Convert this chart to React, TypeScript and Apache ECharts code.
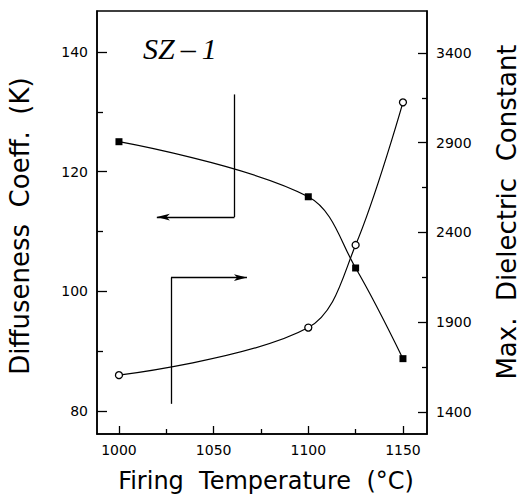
import React, { useEffect, useRef } from "react";
import * as echarts from "echarts";

const temperatures = [1000, 1100, 1125, 1150];
const diffuseness = [125, 115.8, 103.9, 88.75];
const maxDielectric = [1605, 1870, 2330, 3125];

const xMajorTicks = [1000, 1050, 1100, 1150];
const xMinorTicks = [1025, 1075, 1125];
const leftMajorTicks = [80, 100, 120, 140];
const leftMinorTicks = [90, 110, 130];
const rightMajorTicks = [1400, 1900, 2400, 2900, 3400];
const rightMinorTicks = [1650, 2150, 2650, 3150];

const xRange = [988.4, 1162.7];
const leftRange = [76.16, 146.84];
const rightRange = [1277, 3634];

// annotation arrows (in data coordinates of x / left axis)
const arrowLeft = { x: 1061, yTop: 132.9, yBottom: 112.4, xTip: 1020 };
const arrowRight = { x: 1027.5, yBottom: 81.2, yTop: 102.3, xTip: 1067.6 };

const FONT = "DejaVu Sans";
const plain = (v: number) => String(v);

export default function App() {
  const ref = useRef<HTMLDivElement>(null);
  useEffect(() => {
    if (!ref.current) return;
    const chart = echarts.init(ref.current, null, { renderer: "svg" });
    const black = "#000";
    const majorX = (pos: string) => ({
      type: "value",
      position: pos,
      min: xRange[0],
      max: xRange[1],
      axisLine: { show: true, lineStyle: { color: black, width: 1.5 } },
      splitLine: { show: false },
    });
    const labelStyle = {
      margin: 9,
      fontFamily: FONT,
      fontSize: 14,
      fontWeight: 500,
      color: black,
      formatter: plain,
    };
    const option: any = {
      animation: false,
      backgroundColor: "#fff",
      grid: {
        left: 97,
        right: 96,
        top: 11,
        bottom: 63,
        show: true,
        borderColor: black,
        borderWidth: 1.5,
        backgroundColor: "transparent",
      },
      xAxis: [
        {
          ...majorX("bottom"),
          axisTick: {
            show: true,
            inside: true,
            length: 8,
            customValues: xMajorTicks,
            lineStyle: { color: black, width: 1.3 },
          },
          axisLabel: { ...labelStyle, show: true, customValues: xMajorTicks, margin: 9 },
        },
        {
          ...majorX("bottom"),
          axisLine: { show: false },
          axisTick: {
            show: true,
            inside: true,
            length: 5,
            customValues: xMinorTicks,
            lineStyle: { color: black, width: 1.3 },
          },
          axisLabel: { show: false },
        },
      ],
      yAxis: [
        {
          type: "value",
          position: "left",
          min: leftRange[0],
          max: leftRange[1],
          splitLine: { show: false },
          axisLine: { show: true, lineStyle: { color: black, width: 1.5 } },
          axisTick: {
            show: true,
            inside: true,
            length: 10,
            customValues: leftMajorTicks,
            lineStyle: { color: black, width: 1.3 },
          },
          axisLabel: { ...labelStyle, customValues: leftMajorTicks },
        },
        {
          type: "value",
          position: "right",
          min: rightRange[0],
          max: rightRange[1],
          splitLine: { show: false },
          axisLine: { show: true, lineStyle: { color: black, width: 1.5 } },
          axisTick: {
            show: true,
            inside: true,
            length: 9,
            customValues: rightMajorTicks,
            lineStyle: { color: black, width: 1.3 },
          },
          axisLabel: { ...labelStyle, customValues: rightMajorTicks },
        },
        {
          type: "value",
          position: "left",
          min: leftRange[0],
          max: leftRange[1],
          splitLine: { show: false },
          axisLine: { show: false },
          axisTick: {
            show: true,
            inside: true,
            length: 6,
            customValues: leftMinorTicks,
            lineStyle: { color: black, width: 1.3 },
          },
          axisLabel: { show: false },
        },
        {
          type: "value",
          position: "right",
          min: rightRange[0],
          max: rightRange[1],
          splitLine: { show: false },
          axisLine: { show: false },
          axisTick: {
            show: true,
            inside: true,
            length: 5,
            customValues: rightMinorTicks,
            lineStyle: { color: black, width: 1.3 },
          },
          axisLabel: { show: false },
        },
      ],
      series: [
        {
          name: "Diffuseness Coeff. (K)",
          type: "line",
          xAxisIndex: 0,
          yAxisIndex: 0,
          data: temperatures.map((t, i) => [t, diffuseness[i]]),
          smooth: 0.35,
          symbol: "rect",
          symbolSize: 7,
          itemStyle: { color: black },
          lineStyle: { color: black, width: 1.2 },
          markLine: {
            silent: true,
            animation: false,
            label: { show: false },
            lineStyle: { color: black, width: 1.3, type: "solid" },
            symbolSize: [5, 13],
            data: [
              [
                { coord: [arrowLeft.x, arrowLeft.yTop], symbol: "none" },
                { coord: [arrowLeft.x, arrowLeft.yBottom], symbol: "none" },
              ],
              [
                { coord: [arrowLeft.x, arrowLeft.yBottom], symbol: "none" },
                { coord: [arrowLeft.xTip, arrowLeft.yBottom], symbol: "arrow" },
              ],
              [
                { coord: [arrowRight.x, arrowRight.yBottom], symbol: "none" },
                { coord: [arrowRight.x, arrowRight.yTop], symbol: "none" },
              ],
              [
                { coord: [arrowRight.x, arrowRight.yTop], symbol: "none" },
                { coord: [arrowRight.xTip, arrowRight.yTop], symbol: "arrow" },
              ],
            ],
          },
        },
        {
          name: "Max. Dielectric Constant",
          type: "line",
          xAxisIndex: 0,
          yAxisIndex: 1,
          data: temperatures.map((t, i) => [t, maxDielectric[i]]),
          smooth: 0.35,
          symbol: "circle",
          symbolSize: 7,
          itemStyle: { color: "#fff", borderColor: black, borderWidth: 1.3 },
          lineStyle: { color: black, width: 1.2 },
        },
      ],
      graphic: [
        {
          type: "text",
          x: 20,
          y: 226,
          rotation: Math.PI / 2,
          style: {
            text: "Diffuseness  Coeff.  (K)",
            fontFamily: FONT,
            fontSize: 26,
            fill: black,
            textAlign: "center",
            textVerticalAlign: "middle",
          },
        },
        {
          type: "text",
          x: 507,
          y: 212,
          rotation: Math.PI / 2,
          style: {
            text: "Max.  Dielectric  Constant",
            fontFamily: FONT,
            fontSize: 26,
            fill: black,
            textAlign: "center",
            textVerticalAlign: "middle",
          },
        },
        {
          type: "text",
          x: 266,
          y: 481,
          style: {
            text: "Firing  Temperature  (°C)",
            fontFamily: FONT,
            fontSize: 24,
            fill: black,
            textAlign: "center",
            textVerticalAlign: "middle",
          },
        },
        {
          type: "text",
          x: 143,
          y: 48,
          style: {
            text: "SZ\u2009\u2013\u20091",
            fontFamily: "Liberation Serif",
            fontStyle: "italic",
            fontSize: 30,
            fill: black,
            textAlign: "left",
            textVerticalAlign: "middle",
          },
        },
      ],
    };
    chart.setOption(option);
    return () => chart.dispose();
  }, []);
  return <div ref={ref} style={{ width: 523, height: 497, position: "absolute", left: 0, top: 0 }} />;
}
